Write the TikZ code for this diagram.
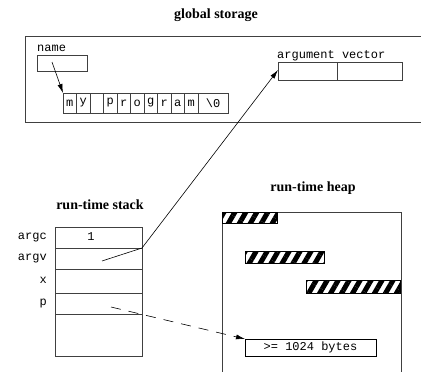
\documentclass[tikz,border=0pt]{standalone}
\usepackage{fontspec}
\setmainfont{Liberation Serif}
\setmonofont{Liberation Mono}
\usepackage{tikz}
\usetikzlibrary{arrows.meta}
\usetikzlibrary{patterns.meta}

\begin{document}
\begin{tikzpicture}[x=1pt,y=-1pt,
        title/.style={font=\fontsize{14}{16}\selectfont\bfseries, inner sep=0pt},
        lbl/.style={font=\fontsize{12}{14}\selectfont\ttfamily, inner sep=0pt},
        box/.style={draw=black!75, line width=0.7pt, inner sep=0pt, outer sep=0pt},
        cell/.style={box, minimum width=13.5pt, minimum height=20pt, anchor=north west,
              font=\fontsize{12}{14}\selectfont\ttfamily},
        row/.style={box, minimum width=87pt, minimum height=#1, anchor=north west},
        row/.default = 21pt,
        hatch/.style={draw=black, line width=0.7pt,
              pattern={Lines[angle=60,distance=9.5pt,line width=5pt]}},
        ptr/.style={line width=0.6pt, -{Latex[length=9pt,width=5pt]}},
    ]
    \useasboundingbox (0,0) rectangle (421,372);
    % global storage
    \node[title] (gtitle) at (216,15) {global storage};
    \draw[box] (425,36) -- (25,36) -- (25,122.5) -- (425,122.5);
    \node[lbl,anchor=base west] (namelbl) at (37,51) {name};
    \node[box,minimum width=50pt,minimum height=16pt,anchor=north west] (name) at (37,55) {};
    \foreach \ch [count=\i from 0] in {m,y,{},p,r,o,g,r,a,m}
        \node[cell] (c\i) at (63+13.5*\i,93) {\ch};
    \node[cell,minimum width=30pt] (cend) at (198,93) {\textbackslash 0};
    \node[lbl,anchor=base west] (avlbl) at (277,58) {argument vector};
    \node[box,minimum width=59pt,minimum height=18pt,anchor=north west] (av0) at (278,62) {};
    \node[box,minimum width=65pt,minimum height=18pt,anchor=north west] (av1) at (337,62) {};
    % name -> string
    \coordinate (nameptr) at (52,62);
    \draw[ptr] (nameptr) -- (c0.north west);

    % run-time stack
    \node[title] (stitle) at (100,205) {run-time stack};
    \node[row] (argc) at (55,227) {};
    \node[row] (argv) at (55,248) {};
    \node[row=24pt] (xrow) at (55,269) {};
    \node[row] (prow) at (55,293) {};
    \node[row=42pt] (rest) at (55,314) {};
    \node[lbl] (one) at (91,237) {1};
    \node[lbl,anchor=east] at ([xshift=-8pt]argc.west) {argc};
    \node[lbl,anchor=east] at ([xshift=-8pt]argv.west) {argv};
    \node[lbl,anchor=east] at ([xshift=-8pt,yshift=1pt]xrow.west) {x};
    \node[lbl,anchor=east] at ([xshift=-8pt]prow.west) {p};

    % run-time heap
    \node[title] (htitle) at (313,188) {run-time heap};
    \draw[box] (222,380) -- (222,212) -- (401,212) -- (401,380);
    \draw[hatch] (222,212) rectangle (277,223);
    \draw[hatch] (245,251) rectangle (324,263);
    \draw[hatch] (306,280) rectangle (400,293);
    \node[box,lbl,minimum width=131pt,minimum height=17pt,anchor=north west,draw=black] (bytes) at (245,339) {>= 1024 bytes};

    % pointers
    \coordinate (argvptr) at (102,261);
    \draw[ptr] (argvptr) -- (argc.south east) -- ([yshift=1pt]av0.west);
    \coordinate (pptr) at (111,307);
    \draw[ptr,dash pattern=on 10pt off 8pt] (pptr) -- (bytes.north west);
\end{tikzpicture}
\end{document}
